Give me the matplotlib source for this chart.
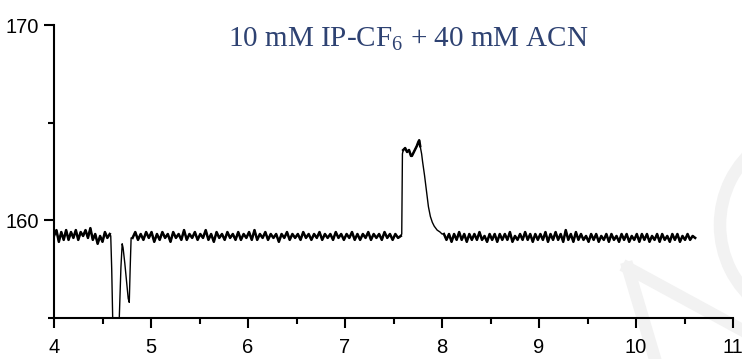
import numpy as np
import matplotlib
matplotlib.use("Agg")
import matplotlib.pyplot as plt
from matplotlib.ticker import MultipleLocator
from matplotlib.lines import Line2D
from matplotlib.patches import Arc

plt.rcParams['mathtext.fontset'] = 'custom'
plt.rcParams['mathtext.rm'] = 'Liberation Serif'

# baseline before the dip, 4.00 .. 4.575
base1_y = [159.2, 159.5, 158.9, 159.4, 159.0, 159.5, 159.0, 159.4, 159.1, 159.5,
           159.0, 159.4, 159.2, 159.5, 159.1, 159.6, 159.0, 159.3, 158.8, 159.2,
           158.9, 159.4, 159.1, 159.3]

# negative dip near 4.6-4.8
dip_x = [4.585, 4.595, 4.605, 4.62, 4.65, 4.673, 4.69, 4.703, 4.712, 4.73,
         4.75, 4.765, 4.776, 4.785, 4.795]
dip_y = [159.2, 157.5, 155.0, 154.2, 154.2, 155.0, 157.6, 158.8, 158.6, 157.8,
         156.8, 156.0, 155.8, 157.5, 159.1]

# baseline 4.81 .. 7.575
base2_y = [159.1, 159.4, 159.0, 159.3, 159.0, 159.4, 159.1, 159.4, 158.9, 159.3,
           159.0, 159.4, 159.1, 159.3, 158.9, 159.4, 159.1, 159.3, 159.0, 159.5,
           159.0, 159.3, 159.1, 159.4, 159.0, 159.3, 159.1, 159.5, 159.0, 159.3,
           158.9, 159.4, 159.1, 159.3, 159.0, 159.4, 159.1, 159.3, 159.0, 159.4,
           159.0, 159.3, 159.1, 159.4, 159.0, 159.5, 159.0, 159.3, 159.1, 159.4,
           159.0, 159.3, 159.1, 159.3, 158.9, 159.3, 159.1, 159.4, 159.0, 159.3,
           159.1, 159.3, 159.0, 159.4, 159.1, 159.3, 159.0, 159.3, 159.1, 159.4,
           159.0, 159.3, 159.1, 159.3, 159.0, 159.4, 159.1, 159.3, 159.0, 159.3,
           159.1, 159.4, 159.0, 159.3, 159.0, 159.3, 159.1, 159.4, 159.0, 159.3,
           159.1, 159.3, 159.0, 159.4, 159.1, 159.3, 159.0, 159.3, 159.1, 159.2]

# positive peak near 7.6-8.0
peak_x = [7.585, 7.592, 7.60, 7.62, 7.64, 7.66, 7.68, 7.69, 7.70, 7.72,
          7.74, 7.755, 7.765, 7.775, 7.79, 7.80, 7.82, 7.84, 7.86, 7.88,
          7.90, 7.92, 7.95, 7.98, 8.00]
peak_y = [159.3, 163.4, 163.6, 163.7, 163.5, 163.6, 163.3, 163.3, 163.4, 163.6,
          163.8, 164.0, 164.1, 163.8, 163.4, 163.0, 162.3, 161.5, 160.7, 160.2,
          159.9, 159.7, 159.5, 159.4, 159.3]

# baseline 8.02 .. 10.61
base3_y = [159.3, 159.0, 159.3, 158.9, 159.3, 159.0, 159.4, 159.0, 159.3, 158.9,
           159.3, 159.0, 159.3, 159.0, 159.4, 159.0, 159.2, 158.9, 159.3, 159.0,
           159.3, 158.9, 159.3, 159.0, 159.3, 159.0, 159.4, 158.9, 159.2, 159.0,
           159.3, 159.0, 159.4, 159.0, 159.3, 158.9, 159.3, 159.0, 159.3, 159.0,
           159.4, 158.9, 159.3, 159.0, 159.4, 159.0, 159.3, 158.9, 159.5, 159.0,
           159.3, 158.9, 159.4, 159.0, 159.3, 159.0, 159.2, 158.9, 159.3, 159.0,
           159.3, 158.9, 159.2, 159.0, 159.3, 158.9, 159.3, 159.0, 159.2, 158.9,
           159.3, 159.0, 159.3, 158.9, 159.2, 159.0, 159.3, 158.9, 159.3, 159.0,
           159.3, 158.9, 159.2, 159.0, 159.3, 158.9, 159.3, 159.0, 159.2, 158.9,
           159.3, 159.0, 159.3, 158.9, 159.2, 159.0, 159.3, 159.0, 159.2, 159.1]

title_text = "10 mM IP-CF$_\\mathrm{6}$ + 40 mM ACN"

x1 = np.linspace(4.0, 4.575, len(base1_y))
x2 = np.linspace(4.81, 7.575, len(base2_y))
x3 = np.linspace(8.02, 10.61, len(base3_y))
x = np.concatenate([x1, dip_x, x2, peak_x, x3])
y = np.concatenate([base1_y, dip_y, base2_y, peak_y, base3_y])

fig = plt.figure(figsize=(7.42, 3.59), dpi=100)

# faint watermark in lower right
wm = '#f2f2f2'
fig.add_artist(Line2D([628 / 742, 1.0], [1 - 268 / 359, 1 - 330 / 359], color=wm, lw=9, zorder=0))
fig.add_artist(Line2D([628 / 742, 655 / 742], [1 - 268 / 359, 0.0], color=wm, lw=9, zorder=0))
fig.add_artist(Arc((820 / 742, 1 - 225 / 359), 200 / 742, 200 / 359, theta1=110, theta2=250,
                   transform=fig.transFigure, color=wm, lw=9, zorder=0))

ax = fig.add_axes([54 / 742, 41 / 359, 679 / 742, 293 / 359])
ax.patch.set_alpha(0)
ax.plot(x, y, color='k', lw=1.0)
# noisy baseline drawn heavier so it reads as a band
for xs, ys in [(x1, base1_y), (x2, base2_y), (x3, base3_y)]:
    ax.plot(xs, ys, color='k', lw=1.8)
ax.plot(peak_x[2:14], peak_y[2:14], color='k', lw=1.8)

ax.set_xlim(4, 11)
ax.set_ylim(155, 170)
ax.xaxis.set_major_locator(MultipleLocator(1))
ax.xaxis.set_minor_locator(MultipleLocator(0.5))
ax.yaxis.set_minor_locator(MultipleLocator(5))
ax.set_yticks([160, 170])

for s in ['top', 'right']:
    ax.spines[s].set_visible(False)
for s in ['left', 'bottom']:
    ax.spines[s].set_linewidth(1.5)

ax.tick_params(which='major', direction='out', length=7, width=1.5)
ax.tick_params(which='minor', direction='out', length=4, width=1.5)
ax.tick_params(axis='x', which='major', pad=7.5)
ax.tick_params(axis='y', which='major', pad=4)
for lab in ax.get_xticklabels() + ax.get_yticklabels():
    lab.set_fontfamily('Liberation Sans')
    lab.set_fontsize(14.5)

ax.text(7.65, 168.9, title_text, ha='center', va='baseline',
        fontfamily='Liberation Serif', fontsize=21, color='#2E4272')

fig.savefig('out.png', dpi=100)
